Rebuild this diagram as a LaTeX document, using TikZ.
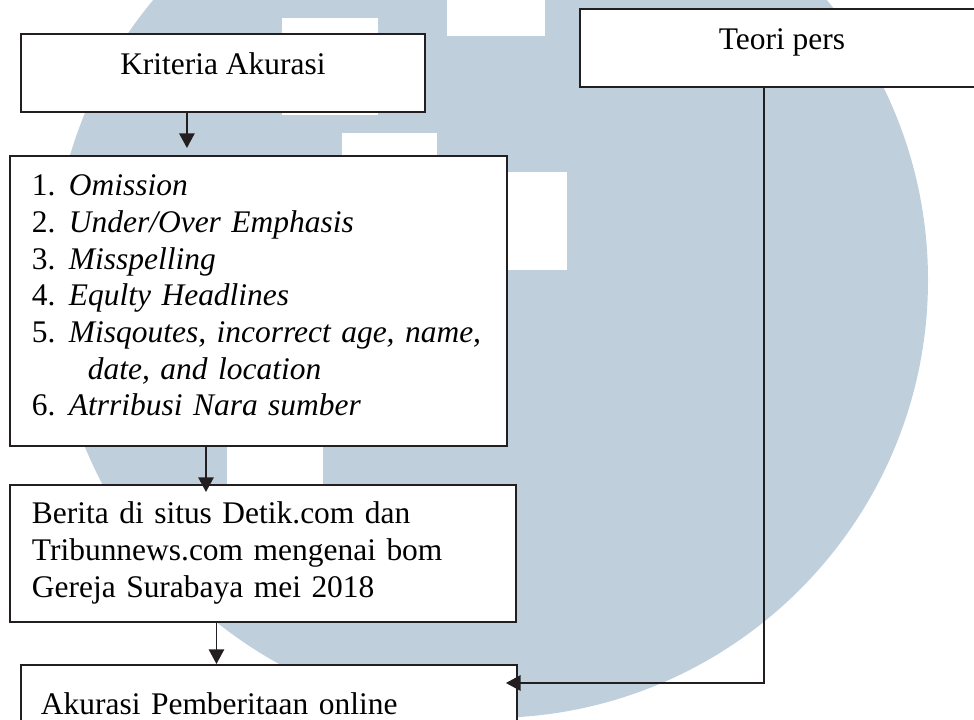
\documentclass[tikz,border=0pt]{standalone}
\usepackage{fontspec}
\setmainfont{Liberation Serif}
\usetikzlibrary{arrows.meta}
\setlength{\parindent}{0pt}
\definecolor{logoblue}{RGB}{192,207,220}
\definecolor{inkline}{RGB}{35,31,32}
\newcommand{\toppad}[1]{\rule{0pt}{#1}}
\newcommand{\botpad}[1]{\rule[-#1]{0pt}{0pt}}
\newcommand{\itemno}[1]{\makebox[27.75pt][l]{#1}}
\tikzset{
  box/.style={draw=inkline,fill=white,line width=1.4pt,inner ysep=0pt,font=\fontsize{23.6pt}{27.5pt}\selectfont},
  head box/.style={box,inner xsep=0pt,minimum width=303pt,text height=30.75pt,text depth=27.75pt},
  text box/.style={box,align=left,inner xsep=16.5pt},
  flow/.style={draw=inkline,line width=1.4pt,-{Triangle[width=11.5pt,length=11pt]}}
}

\begin{document}
\begin{tikzpicture}[x=0.75pt,y=-0.75pt]
  \useasboundingbox (0,0) rectangle (974,720);
  \clip (0,0) rectangle (974,720);
  % watermark
  \fill[logoblue] (490,280) circle[radius=328.5pt];
  \fill[white] (282,18) rectangle (378,115);
  \fill[white] (447,-60) rectangle (545,36);
  \fill[white] (342,133) rectangle (437,229);
  \fill[white] (471,172) rectangle (567,270);
  \fill[white] (227,420) rectangle (323,500);

  \node[head box,anchor=north west] (kriteria) at (20,33) {Kriteria Akurasi};
  \node[head box,anchor=north west] (teori) at (579,8) {Teori pers};
  \node[text box,text width=339.75pt,anchor=north west] (aspek) at (9,155) {%
    \toppad{30pt}\itemno{1.}\textit{Omission}\\
    \itemno{2.}\textit{Under/Over Emphasis}\\
    \itemno{3.}\textit{Misspelling}\\
    \itemno{4.}\textit{Equlty Headlines}\\
    \itemno{5.}\textit{Misqoutes, incorrect age, name,}\\
    \hspace*{42pt}\textit{date, and location}\\
    \itemno{6.}\textit{Atrribusi Nara sumber}\botpad{22.5pt}};
  \node[text box,text width=346.5pt,anchor=north west] (berita) at (9,484) {%
    \toppad{29.25pt}Berita di situs Detik.com dan\\
    Tribunnews.com mengenai bom\\
    Gereja Surabaya mei 2018\botpad{18.75pt}};
  \node[text box,inner xsep=15pt,text width=342pt,anchor=north west] (akurasi) at (20,664) {%
    \toppad{37.5pt}Akurasi Pemberitaan online\botpad{30pt}};

  \draw[flow,shorten >=5.25pt] ([xshift=-27pt]kriteria.south) -- ([xshift=-27pt]kriteria.south |- aspek.north);
  \draw[flow,shorten >=-6pt] ([xshift=147.75pt]aspek.south west) -- ([xshift=147.75pt]aspek.south west |- berita.north);
  \draw[flow] ([xshift=155.6pt]berita.south west) -- ([xshift=155.6pt]berita.south west |- akurasi.north);
  \draw[flow,shorten >=-9pt] ([xshift=138.75pt]teori.south west) |- ([yshift=-14.25pt]akurasi.north east);
\end{tikzpicture}
\end{document}
